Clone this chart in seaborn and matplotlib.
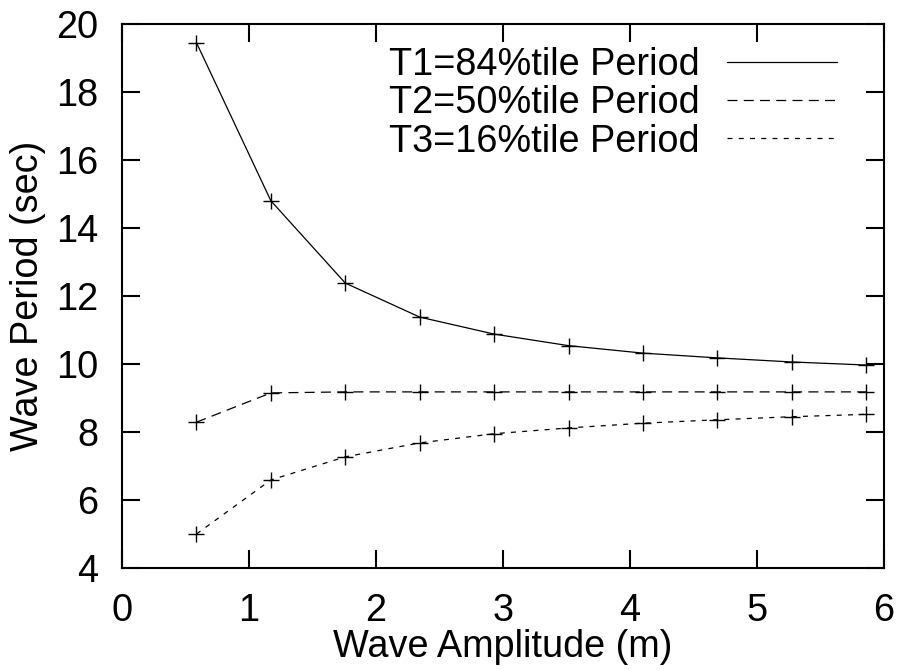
import matplotlib
matplotlib.use("Agg")
import matplotlib.pyplot as plt
import seaborn as sns
import pandas as pd
from matplotlib.lines import Line2D

amplitude = [0.586, 1.172, 1.758, 2.344, 2.93, 3.516, 4.102, 4.688, 5.274, 5.86]
t1 = [19.45, 14.8, 12.38, 11.38, 10.88, 10.54, 10.32, 10.18, 10.06, 9.97]
t2 = [8.29, 9.15, 9.18, 9.18, 9.18, 9.18, 9.18, 9.18, 9.18, 9.18]
t3 = [5.0, 6.59, 7.27, 7.68, 7.95, 8.12, 8.26, 8.36, 8.45, 8.52]
labels = ["T1=84%tile Period", "T2=50%tile Period", "T3=16%tile Period"]

df = pd.DataFrame({
    "x": amplitude * 3,
    "y": t1 + t2 + t3,
    "series": [labels[0]] * 10 + [labels[1]] * 10 + [labels[2]] * 10,
})

sns.set_style("white")
plt.rcParams['font.family'] = ['Liberation Sans', 'DejaVu Sans']
plt.rcParams['text.color'] = 'black'
plt.rcParams['axes.labelcolor'] = 'black'
plt.rcParams['xtick.color'] = 'black'
plt.rcParams['ytick.color'] = 'black'

FS = 27.3

fig = plt.figure(figsize=(8.98, 6.7), dpi=100)
ax = fig.add_axes([0.1359, 0.1522, 0.8485, 0.812])

dash_styles = {labels[0]: '-', labels[1]: (0, (8, 5)), labels[2]: (0, (4, 5))}
for lab in labels:
    sub = df[df["series"] == lab]
    sns.lineplot(data=sub, x="x", y="y", ax=ax, color="black", linewidth=0.9,
                 linestyle=dash_styles[lab], marker="+", markersize=12,
                 markeredgewidth=1.0, markeredgecolor="black", legend=False)

ax.set_xlim(0, 6)
ax.set_ylim(4, 20)
ax.set_xticks(range(0, 7))
ax.set_yticks(range(4, 21, 2))
ax.tick_params(direction="in", length=13, width=1.5, labelsize=FS,
               top=True, right=True, bottom=True, left=True,
               colors="black", labelcolor="black")
ax.tick_params(axis="y", pad=17)
ax.tick_params(axis="x", pad=18)
for s in ax.spines.values():
    s.set_linewidth(1.5)
    s.set_color("black")
    s.set_visible(True)
ax.set_xlabel("Wave Amplitude (m)", fontsize=FS, labelpad=0, color="black")
ax.set_ylabel("Wave Period (sec)", fontsize=FS, labelpad=7, color="black")

handles = [
    Line2D([], [], color="black", linewidth=0.9, linestyle='-'),
    Line2D([], [], color="black", linewidth=0.9, linestyle=(0, (8, 5))),
    Line2D([], [], color="black", linewidth=0.9, linestyle=(0, (4, 5))),
]
leg = ax.legend(handles, labels, loc="upper right", markerfirst=False, frameon=False,
                fontsize=FS, handlelength=2.9, handletextpad=0.72, labelspacing=0.06,
                borderaxespad=0.0, borderpad=0.0,
                bbox_to_anchor=((837 - 122) / 762, 1 - (47 - 24) / 544))
for t in leg.get_texts():
    t.set_color("black")

fig.savefig("out.png", dpi=100)
